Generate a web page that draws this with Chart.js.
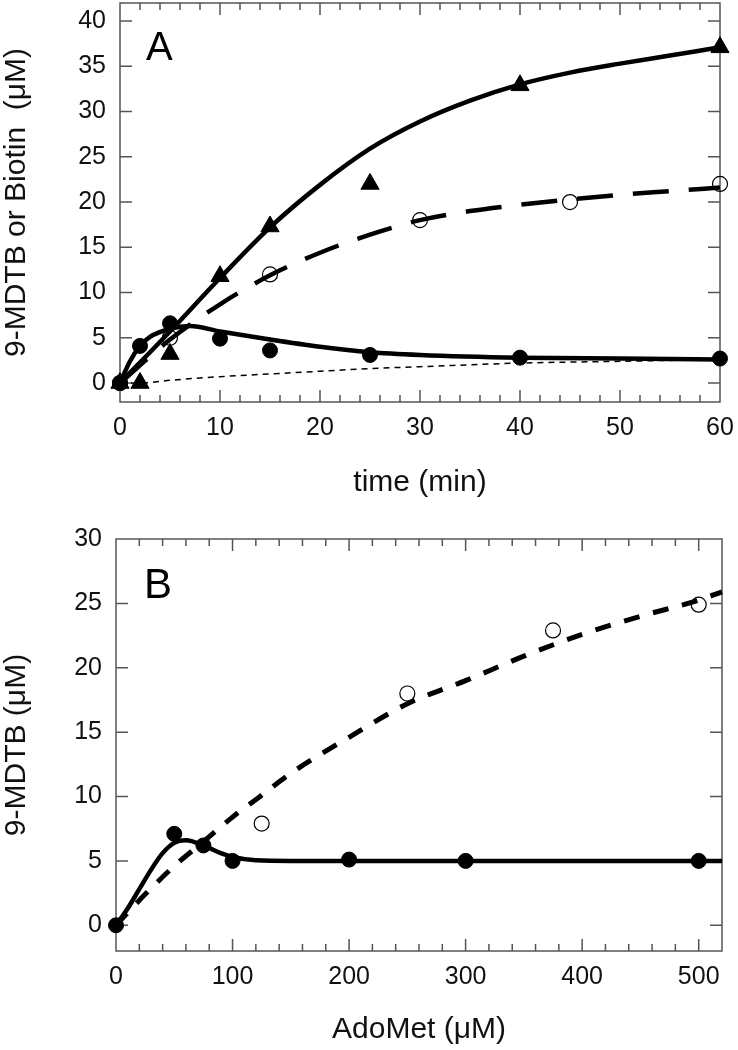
<!DOCTYPE html>
<html>
<head>
<meta charset="utf-8">
<script src="https://cdn.jsdelivr.net/npm/chart.js@4.4.0/dist/chart.umd.min.js"></script>
<style>
  body { margin: 0; background: #fff; }
  canvas { position: absolute; left: 0; }
  #chartA { top: 0; }
  #chartB { top: 520px; }
</style>
</head>
<body>
<canvas id="chartA" width="738" height="520"></canvas>
<canvas id="chartB" width="738" height="530"></canvas>
<script>
// ---- Panel A: time course ----
const timeTicks = [0, 10, 20, 30, 40, 50, 60];
const concTicksA = [0, 5, 10, 15, 20, 25, 30, 35, 40];

const triTime = [0, 2, 5, 10, 15, 25, 40, 60];
const triConc = [0, 0, 3.2, 11.8, 17.3, 22, 32.9, 37.1];
const openTime = [0, 5, 15, 30, 45, 60];
const openConc = [0, 5, 12, 18, 20, 22];
const dotTime = [0, 2, 5, 10, 15, 25, 40, 60];
const dotConc = [0, 4.1, 6.6, 4.9, 3.6, 3.1, 2.8, 2.7];

const triFitTime = [0, 5, 10, 15, 20, 25, 30, 35, 40, 45, 50, 55, 60];
const triFitConc = [0, 5.7, 11.6, 17.2, 21.9, 25.9, 28.9, 31.2, 33, 34.3, 35.3, 36.2, 37.1];
const openFitTime = [0, 5, 10, 15, 20, 25, 30, 35, 40, 45, 50, 55, 60];
const openFitConc = [0, 4.8, 8.7, 11.9, 14.4, 16.4, 18.0, 19.0, 19.7, 20.3, 20.8, 21.2, 21.6];
const dotFitTime = [0, 1, 2, 3, 5, 7, 10, 15, 20, 25, 30, 40, 50, 60];
const dotFitConc = [0, 2.4, 4.1, 5.1, 6.0, 6.3, 5.7, 4.8, 4.0, 3.4, 3.1, 2.8, 2.7, 2.6];
const baseFitTime = [0, 2, 5, 10, 15, 20, 25, 30, 40, 50, 60];
const baseFitConc = [0, 0, 0.3, 0.7, 1.0, 1.3, 1.6, 1.8, 2.2, 2.4, 2.6];

// ---- Panel B: AdoMet dependence ----
const adoTicks = [0, 100, 200, 300, 400, 500];
const concTicksB = [0, 5, 10, 15, 20, 25, 30];

const dotAdo = [0, 50, 75, 100, 200, 300, 500];
const dotMdtb = [0, 7.1, 6.2, 5.0, 5.1, 5.0, 5.0];
const openAdo = [125, 250, 375, 500];
const openMdtb = [7.9, 18, 22.9, 24.9];

const dotFitAdo = [0, 10, 20, 30, 40, 50, 60, 75, 90, 100, 120, 150, 200, 300, 400, 520];
const dotFitMdtb = [0, 1.3, 2.8, 4.3, 5.6, 6.4, 6.6, 6.2, 5.6, 5.3, 5.05, 5, 5, 5, 5, 5];
const openFitAdo = [0, 25, 50, 75, 100, 125, 150, 200, 250, 300, 350, 400, 450, 500, 520];
const openFitMdtb = [0, 2.4, 4.6, 6.5, 8.4, 10.1, 11.8, 14.6, 17.2, 19.0, 20.9, 22.6, 24.0, 25.25, 25.9];

const FONT = "'Liberation Sans', Arial, sans-serif";

const pts = (xs, ys) => xs.map((x, i) => ({ x, y: ys[i] }));

function curve(xs, ys, width, dash) {
  return {
    data: pts(xs, ys), showLine: true, borderColor: '#000', borderWidth: width,
    borderDash: dash || [], pointRadius: 0, cubicInterpolationMode: 'monotone',
    order: 2, clip: false
  };
}
function marks(xs, ys, style, radius, filled) {
  return {
    data: pts(xs, ys), showLine: false, pointStyle: style, pointRadius: radius,
    pointBackgroundColor: filled ? '#000' : 'rgba(0,0,0,0)', pointBorderColor: '#000',
    pointBorderWidth: filled ? 1 : 1.2, order: 1, clip: false
  };
}

// box with inward tick marks on all four sides, plus the panel letter
const frameTicks = {
  id: 'frameTicks',
  beforeDatasetsDraw(chart, args, o) {
    const { ctx, chartArea: a, scales: { x, y } } = chart;
    ctx.save();
    ctx.strokeStyle = '#555';
    ctx.lineWidth = 1.5;
    ctx.strokeRect(a.left, a.top, a.right - a.left, a.bottom - a.top);
    ctx.beginPath();
    for (let v = o.xStep; v < x.max; v += o.xStep) {
      const px = x.getPixelForValue(v);
      const major = Math.abs(v / o.xMajor - Math.round(v / o.xMajor)) < 1e-6;
      const len = major ? 12 : 7;
      ctx.moveTo(px, a.bottom); ctx.lineTo(px, a.bottom - len);
      ctx.moveTo(px, a.top); ctx.lineTo(px, a.top + len);
    }
    o.yTicks.forEach(v => {
      const py = y.getPixelForValue(v);
      if (py <= a.top + 1) return;
      ctx.moveTo(a.left, py); ctx.lineTo(a.left + 12, py);
      ctx.moveTo(a.right, py); ctx.lineTo(a.right - 12, py);
    });
    ctx.stroke();
    ctx.restore();
  },
  afterDraw(chart, args, o) {
    const { ctx, chartArea: a } = chart;
    ctx.save();
    ctx.fillStyle = '#000';
    ctx.font = o.panelSize + 'px ' + FONT;
    ctx.textBaseline = 'alphabetic';
    ctx.fillText(o.panel, a.left + o.panelX, a.top + o.panelY);
    ctx.restore();
  }
};

// fixed axis sizes, no extra room for edge labels
function fixBox(s, w, h) {
  if (w != null) s.width = w;
  if (h != null) s.height = h;
  s.paddingTop = 0; s.paddingBottom = 0; s.paddingLeft = 0; s.paddingRight = 0;
}

function axes(c) {
  const tickFont = { family: FONT, size: 25 };
  const titleFont = { family: FONT, size: 30, lineHeight: 1.1 };
  return {
    x: {
      type: 'linear', min: c.xMin, max: c.xMax,
      grid: { display: false, drawTicks: false }, border: { display: false },
      afterBuildTicks: s => { s.ticks = c.xTicks.map(v => ({ value: v })); },
      ticks: { color: '#111', font: tickFont, padding: 11, maxRotation: 0, autoSkip: false },
      title: { display: true, text: c.xTitle, color: '#111', font: titleFont, padding: { top: 0, bottom: c.xTitlePad } },
      afterFit: s => fixBox(s, null, c.xHeight)
    },
    y: {
      type: 'linear', min: c.yMin, max: c.yMax,
      grid: { display: false, drawTicks: false }, border: { display: false },
      afterBuildTicks: s => { s.ticks = c.yTicks.map(v => ({ value: v })); },
      ticks: { color: '#111', font: tickFont, padding: 14, autoSkip: false },
      title: { display: true, text: c.yTitle, color: '#111', font: titleFont, padding: { top: 0, bottom: 0 } },
      afterFit: s => fixBox(s, c.yWidth, null)
    }
  };
}

const common = {
  responsive: false, animation: false, events: [],
  plugins: { legend: { display: false }, tooltip: { enabled: false } }
};

new Chart(document.getElementById('chartA'), {
  type: 'scatter',
  data: {
    datasets: [
      curve(baseFitTime, baseFitConc, 1.5, [6, 5]),
      curve(openFitTime, openFitConc, 4.5, [36, 20]),
      curve(dotFitTime, dotFitConc, 4.5),
      curve(triFitTime, triFitConc, 4.5),
      marks(openTime, openConc, 'circle', 7.5, false),
      marks(dotTime, dotConc, 'circle', 7.5, true),
      marks(triTime, triConc, 'triangle', 10.5, true)
    ]
  },
  options: {
    ...common,
    layout: { autoPadding: false, padding: { top: 3, right: 18, left: 0, bottom: 0 } },
    scales: axes({
      xMin: 0, xMax: 60, yMin: -2.1, yMax: 42,
      xTicks: timeTicks, yTicks: concTicksA,
      xTitle: 'time (min)', yTitle: '9-MDTB or Biotin  (\u03BCM)',
      xHeight: 118, yWidth: 120, xTitlePad: 21
    }),
    plugins: {
      ...common.plugins,
      frameTicks: { xStep: 2, xMajor: 10, yTicks: concTicksA, panel: 'A', panelSize: 40, panelX: 26, panelY: 57 }
    }
  },
  plugins: [frameTicks]
});

new Chart(document.getElementById('chartB'), {
  type: 'scatter',
  data: {
    datasets: [
      curve(openFitAdo, openFitMdtb, 5, [16, 14]),
      curve(dotFitAdo, dotFitMdtb, 4.5),
      marks(openAdo, openMdtb, 'circle', 7.5, false),
      marks(dotAdo, dotMdtb, 'circle', 7.5, true)
    ]
  },
  options: {
    ...common,
    layout: { autoPadding: false, padding: { top: 19, right: 16, left: 0, bottom: 0 } },
    scales: axes({
      xMin: 0, xMax: 520, yMin: -2, yMax: 30,
      xTicks: adoTicks, yTicks: concTicksB,
      xTitle: 'AdoMet (\u03BCM)', yTitle: '9-MDTB (\u03BCM)',
      xHeight: 99, yWidth: 116, xTitlePad: 4
    }),
    plugins: {
      ...common.plugins,
      frameTicks: { xStep: 20, xMajor: 100, yTicks: concTicksB, panel: 'B', panelSize: 42, panelX: 28, panelY: 59 }
    }
  },
  plugins: [frameTicks]
});
</script>
</body>
</html>
